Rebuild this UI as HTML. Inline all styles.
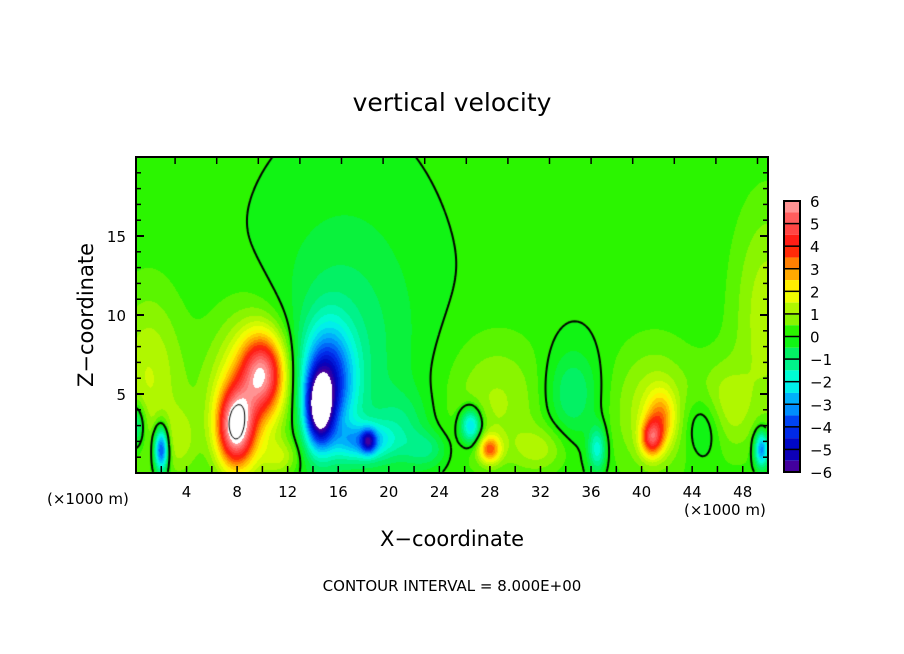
<!DOCTYPE html>
<html><head><meta charset="utf-8"><style>
body{margin:0;background:#fff;width:904px;height:654px;overflow:hidden;position:relative;font-family:"DejaVu Sans","Liberation Sans",sans-serif;}
.t{position:absolute;color:#000;white-space:nowrap;}
</style></head><body>
<div class="t" style="left:0;width:904px;text-align:center;top:88px;font-size:25px;">vertical velocity</div>
<svg id="svg" width="904" height="654" style="position:absolute;left:0;top:0">
<foreignObject x="136" y="157" width="632" height="316"><canvas id="cv" width="632" height="316" xmlns="http://www.w3.org/1999/xhtml"></canvas></foreignObject>
<g id="overlay"></g>
</svg>
<div class="t" style="left:0;width:904px;text-align:center;top:527px;font-size:21px;">X−coordinate</div>
<div class="t" style="left:47px;top:490px;font-size:15px;">(×1000 m)</div>
<div class="t" style="left:684px;top:501px;font-size:15px;">(×1000 m)</div>
<div class="t" style="left:86px;top:315px;font-size:21px;transform:translate(-50%,-50%) rotate(-90deg);">Z−coordinate</div>
<div class="t" style="left:0;width:904px;text-align:center;top:577px;font-size:15px;">CONTOUR INTERVAL = 8.000E+00</div>
<script>
// data
const xTicks=[4,8,12,16,20,24,28,32,36,40,44,48];
const zTicks=[5,10,15];
const cbLevels=[6,5,4,3,2,1,0,-1,-2,-3,-4,-5,-6];
const blobX=[7.9,10.0,9.0,14.5,15.2,16.5,18.4,18.0,2.0,0.0,1.0,50.0,40.8,41.5,41.0,28.0,28.5,26.5,49.5,34.5,36.5,45.0,21,32,46.5,23,3.5,11.5];
const blobZ=[2.9,6.3,5.0,4.0,5.8,8.0,2.0,2.0,1.5,3.0,6.0,10.0,2.2,3.5,4.0,1.5,4.5,3.0,1.5,5.0,1.5,3.0,3,1.5,4,1.5,2,1];
const blobA=[5.7,4.5,2.1,-5.0,-4.0,-1.0,-2.8,-2.5,-4.5,-2.0,1.3,1.2,3.5,2.0,1.2,3.0,1.0,-3.0,-3.5,-1.2,-2.0,-1.2,-0.8,0.9,1.2,-1,0.8,1.0];
const blobSX=[1.0,1.2,2.3,0.75,1.4,4.0,0.4,1.5,0.4,0.5,2.0,2.0,0.6,0.8,2.5,0.6,3.0,0.6,0.4,1.5,0.5,1.2,1.5,1.5,1.5,1.2,1.0,1.0];
const blobSZ=[1.7,1.7,3.5,1.6,2.4,6.0,0.5,0.8,1.0,1.0,4.0,5.0,0.8,1.2,3.0,0.6,3.0,0.8,0.8,2.0,1.0,1.5,1.5,1.0,2.0,0.8,1.5,0.8];
const baseVal=0.05;
const cmapV=[-6,-5,-4,-3,-2,-1,0,1,2,3,4,5,6];
const cmapC=[[80,0,150],[0,0,190],[0,50,240],[0,160,255],[0,255,230],[0,240,120],[20,245,0],[160,245,0],[255,255,0],[255,150,0],[255,20,10],[255,80,80],[255,160,160]];

const X0=136,X1=768,Y0=157,Y1=473;
const sx=x=>X0+(x/50)*(X1-X0), sz=z=>Y1-(z/20)*(Y1-Y0);
function field(x,z){let v=baseVal;for(let i=0;i<blobX.length;i++){const dx=(x-blobX[i])/blobSX[i],dz=(z-blobZ[i])/blobSZ[i];v+=blobA[i]*Math.exp(-0.5*(dx*dx+dz*dz));}return v;}
function color(v){if(v>6||v<-6)return[255,255,255];const q=Math.floor(v*3)/3+1/6;
 for(let i=0;i<cmapV.length-1;i++){if(q<=cmapV[i+1]){const t=(q-cmapV[i]);const a=cmapC[i],b=cmapC[i+1];return[a[0]+(b[0]-a[0])*t,a[1]+(b[1]-a[1])*t,a[2]+(b[2]-a[2])*t];}}return cmapC[12];}
const W=632,H=316,cv=document.getElementById('cv'),ctx=cv.getContext('2d'),img=ctx.createImageData(W,H);
const F=new Float32Array(W*H);
for(let j=0;j<H;j++)for(let i=0;i<W;i++){const v=field((i+0.5)/W*50,(H-j-0.5)/H*20);F[j*W+i]=v;const c=color(v),k=(j*W+i)*4;img.data[k]=c[0];img.data[k+1]=c[1];img.data[k+2]=c[2];img.data[k+3]=255;}
ctx.putImageData(img,0,0);
function contour(lev,lw){ctx.strokeStyle='#000';ctx.lineWidth=lw;ctx.beginPath();const s=3;
 for(let j=0;j<H-s;j+=s)for(let i=0;i<W-s;i+=s){const a=F[j*W+i]-lev,b=F[j*W+i+s]-lev,c=F[(j+s)*W+i+s]-lev,d=F[(j+s)*W+i]-lev;const pts=[];
  if((a>0)!=(b>0))pts.push([i+s*a/(a-b),j]);if((b>0)!=(c>0))pts.push([i+s,j+s*b/(b-c)]);if((c>0)!=(d>0))pts.push([i+s*(1-c/(c-d)),j+s]);if((d>0)!=(a>0))pts.push([i,j+s*(1-d/(d-a))]);
  for(let p=0;p+1<pts.length;p+=2){ctx.moveTo(pts[p][0],pts[p][1]);ctx.lineTo(pts[p+1][0],pts[p+1][1]);}}
 ctx.stroke();}
contour(0,2);contour(6.5,1);

const NS='http://www.w3.org/2000/svg',ov=document.getElementById('overlay');
function mk(tag,attrs){const e=document.createElementNS(NS,tag);for(const k in attrs)e.setAttribute(k,attrs[k]);ov.appendChild(e);return e;}
let e=mk('rect',{x:X0,y:Y0,width:X1-X0,height:Y1-Y0,fill:'none',stroke:'#000','stroke-width':2});


for(let x=2;x<50;x+=2){e=mk('line',{x1:sx(x),x2:sx(x),y1:Y1,y2:Y1-7,stroke:'#000','stroke-width':1.5});

}
for(let k=1;k<16;k++){const px=133.5+41.6*k;if(px>=X1)break;e=mk('line',{x1:px,x2:px,y1:Y0,y2:Y0+7,stroke:'#000','stroke-width':1.5});

}
for(let z=1;z<20;z++){const L=z%5==0?8:5;
e=mk('line',{x1:X0,x2:X0+L,y1:sz(z),y2:sz(z),stroke:'#000','stroke-width':z%5==0?2:1.5});


e=mk('line',{x1:X1,x2:X1-L,y1:sz(z),y2:sz(z),stroke:'#000','stroke-width':z%5==0?2:1.5});

}
xTicks.forEach(v=>{e=mk('text',{x:sx(v),y:497,'text-anchor':'middle','font-size':15,'font-family':'DejaVu Sans, sans-serif'});e.textContent=v;

});
zTicks.forEach(v=>{e=mk('text',{x:126,y:sz(v)+6,'text-anchor':'end','font-size':15,'font-family':'DejaVu Sans, sans-serif'});e.textContent=v;

});
// colorbar
const CBX=784,CBW=16,CBT=201,CBB=472,n=cbLevels.length-1,step=(CBB-CBT)/n;
for(let i=0;i<n;i++){for(let s=0;s<2;s++){const v=cbLevels[i]-0.25-0.5*s;const c=color(v);
 e=mk('rect',{x:CBX,y:CBT+i*step+s*step/2,width:CBW,height:step/2,fill:`rgb(${c.map(Math.round).join(',')})`,stroke:'none'});
 
 }
 e=mk('line',{x1:CBX,x2:CBX+CBW,y1:CBT+i*step,y2:CBT+i*step,stroke:'#000','stroke-width':1.5});
 
 }
e=mk('rect',{x:CBX,y:CBT,width:CBW,height:CBB-CBT,fill:'none',stroke:'#000','stroke-width':2});


cbLevels.forEach((v,i)=>{e=mk('text',{x:CBX+26,y:CBT+i*step+6,'font-size':15,'font-family':'DejaVu Sans, sans-serif'});e.textContent=v<0?'−'+(-v):v;

});
</script>
</body></html>
